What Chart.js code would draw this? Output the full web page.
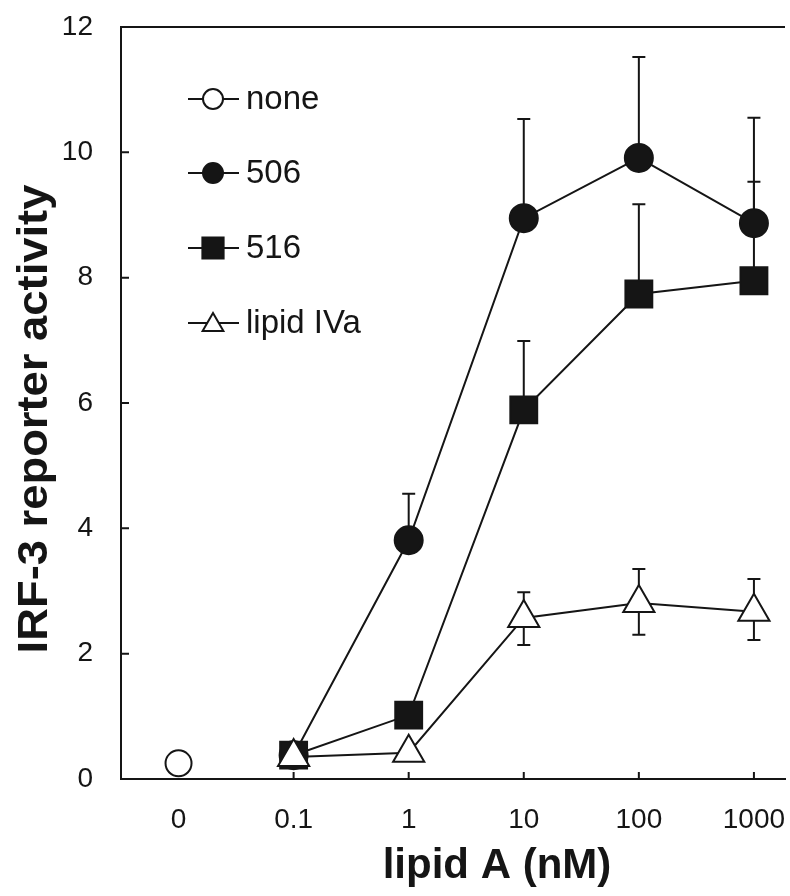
<!DOCTYPE html>
<html><head><meta charset="utf-8">
<script src="https://cdn.jsdelivr.net/npm/chart.js@4/dist/chart.umd.min.js"></script>
<style>html,body{margin:0;padding:0;background:#fff}#wrap{width:790px;height:896px;position:relative}</style>
</head><body><div id="wrap"><canvas id="c"></canvas></div>
<script>
// ---- data ----
const xLabels = ['0', '0.1', '1', '10', '100', '1000'];
const yTicks = [0, 2, 4, 6, 8, 10, 12];
const seriesNames = ['none', '506', '516', 'lipid IVa'];
const noneIdx = [0];
const noneY = [0.25];
const s506Idx = [1, 2, 3, 4, 5];
const s506Y = [0.38, 3.81, 8.95, 9.91, 8.87];
const s506Up = [null, 4.55, 10.53, 11.52, 10.55];
const s516Idx = [1, 2, 3, 4, 5];
const s516Y = [0.38, 1.02, 5.89, 7.74, 7.95];
const s516Up = [null, null, 6.99, 9.17, 9.53];
const ivaIdx = [1, 2, 3, 4, 5];
const ivaY = [0.35, 0.42, 2.57, 2.81, 2.67];
const ivaUp = [null, null, 2.98, 3.35, 3.19];
const ivaLo = [null, null, 2.14, 2.30, 2.22];
const xTitle = 'lipid A (nM)';
const yTitle = 'IRF-3 reporter activity';

const INK = '#151515';
const FONT = '"Liberation Sans", Arial, sans-serif';
const pts = (idx, ys) => idx.map((i, k) => ({x: i, y: ys[k]}));

const errSets = [
  {idx: s506Idx, y: s506Y, up: s506Up, lo: null},
  {idx: s516Idx, y: s516Y, up: s516Up, lo: null},
  {idx: ivaIdx, y: ivaY, up: ivaUp, lo: ivaLo}
];

const errorPlugin = {
  id: 'errs',
  beforeDatasetsDraw(chart) {
    const {ctx, scales: {x, y}} = chart;
    ctx.save();
    ctx.strokeStyle = INK; ctx.lineWidth = 2;
    const cap = 6.5;
    errSets.forEach(s => {
      s.idx.forEach((i, k) => {
        const px = x.getPixelForValue(i);
        const py = y.getPixelForValue(s.y[k]);
        [s.up, s.lo].forEach(arr => {
          if (!arr || arr[k] == null) return;
          const pe = y.getPixelForValue(arr[k]);
          ctx.beginPath();
          ctx.moveTo(px, py); ctx.lineTo(px, pe);
          ctx.moveTo(px - cap, pe); ctx.lineTo(px + cap, pe);
          ctx.stroke();
        });
      });
    });
    ctx.restore();
  }
};

const decorPlugin = {
  id: 'decor',
  afterDraw(chart) {
    const {ctx, chartArea: a, scales: {x, y}} = chart;
    ctx.save();
    ctx.strokeStyle = INK; ctx.lineWidth = 2;
    // top frame line
    ctx.beginPath(); ctx.moveTo(a.left - 1, a.top); ctx.lineTo(a.right, a.top); ctx.stroke();
    // inward ticks
    ctx.beginPath();
    yTicks.forEach(v => { const py = y.getPixelForValue(v); ctx.moveTo(a.left, py); ctx.lineTo(a.left + 8, py); });
    xLabels.forEach((l, i) => { if (i === 0) return; const px = x.getPixelForValue(i); ctx.moveTo(px, a.bottom); ctx.lineTo(px, a.bottom - 7); });
    ctx.stroke();

    // legend
    const styles = [
      {pointStyle: 'circle', radius: 10, fill: '#fff'},
      {pointStyle: 'circle', radius: 10, fill: INK},
      {pointStyle: 'rect', radius: 15, fill: INK},
      {pointStyle: 'triangle', radius: 12, fill: '#fff'}
    ];
    const rows = [99, 173, 248, 323];
    ctx.font = '33px ' + FONT;
    ctx.textBaseline = 'middle'; ctx.textAlign = 'left';
    seriesNames.forEach((n, k) => {
      const yy = rows[k];
      ctx.strokeStyle = INK; ctx.lineWidth = 2;
      ctx.beginPath(); ctx.moveTo(188, yy); ctx.lineTo(239, yy); ctx.stroke();
      ctx.fillStyle = styles[k].fill; ctx.strokeStyle = INK; ctx.lineWidth = 2;
      Chart.helpers.drawPoint(ctx, {pointStyle: styles[k].pointStyle, radius: styles[k].radius, rotation: 0, borderWidth: 2}, 213, yy + (k === 3 ? 2 : 0));
      ctx.fillStyle = INK;
      ctx.fillText(n, 246, yy + 1);
    });

    // axis titles
    ctx.fillStyle = INK;
    ctx.font = 'bold 42px ' + FONT;
    ctx.textAlign = 'center'; ctx.textBaseline = 'middle';
    ctx.fillText(xTitle, 497, 866);
    ctx.translate(35, 419); ctx.rotate(-Math.PI / 2); ctx.scale(1.08, 1);
    ctx.fillText(yTitle, 0, 0);
    ctx.restore();
  }
};

const lineDs = (label, data, style, radius, fill, order) => ({
  label, data, order,
  borderColor: INK, borderWidth: 2, tension: 0,
  pointStyle: style, pointRadius: radius, pointHoverRadius: radius,
  pointBackgroundColor: fill, pointBorderColor: INK, pointBorderWidth: 2,
  clip: false
});

new Chart(document.getElementById('c'), {
  type: 'line',
  data: {
    datasets: [
      Object.assign(lineDs(seriesNames[0], pts(noneIdx, noneY), 'circle', 13, '#fff', 3), {showLine: false}),
      lineDs(seriesNames[1], pts(s506Idx, s506Y), 'circle', 14, INK, 2),
      lineDs(seriesNames[2], pts(s516Idx, s516Y), 'rect', 19, INK, 1),
      lineDs(seriesNames[3], pts(ivaIdx, ivaY), 'triangle', 18, '#fff', 0)
    ]
  },
  options: {
    responsive: true, maintainAspectRatio: false, animation: false,
    devicePixelRatio: 1,
    layout: {autoPadding: false, padding: {top: 27, right: 5, left: 0, bottom: 0}},
    plugins: {legend: {display: false}, tooltip: {enabled: false}},
    scales: {
      x: {
        type: 'linear', min: -0.5, max: 5.27,
        afterBuildTicks: s => { s.ticks = xLabels.map((_, i) => ({value: i})); },
        afterFit: s => { s.height = 117; s.paddingLeft = 0; s.paddingRight = 0; },
        ticks: {callback: v => xLabels[v], font: {family: FONT, size: 28}, color: INK, padding: 24, maxRotation: 0, autoSkip: false},
        grid: {display: false, drawTicks: false},
        border: {display: true, color: INK, width: 2}
      },
      y: {
        min: 0, max: 12,
        afterBuildTicks: s => { s.ticks = yTicks.map(v => ({value: v})); },
        afterFit: s => { s.width = 121; s.paddingTop = 0; s.paddingBottom = 0; },
        ticks: {font: {family: FONT, size: 28}, color: INK, padding: 28},
        grid: {display: false, drawTicks: false},
        border: {display: true, color: INK, width: 2}
      }
    }
  },
  plugins: [errorPlugin, decorPlugin]
});
</script>
</body></html>
